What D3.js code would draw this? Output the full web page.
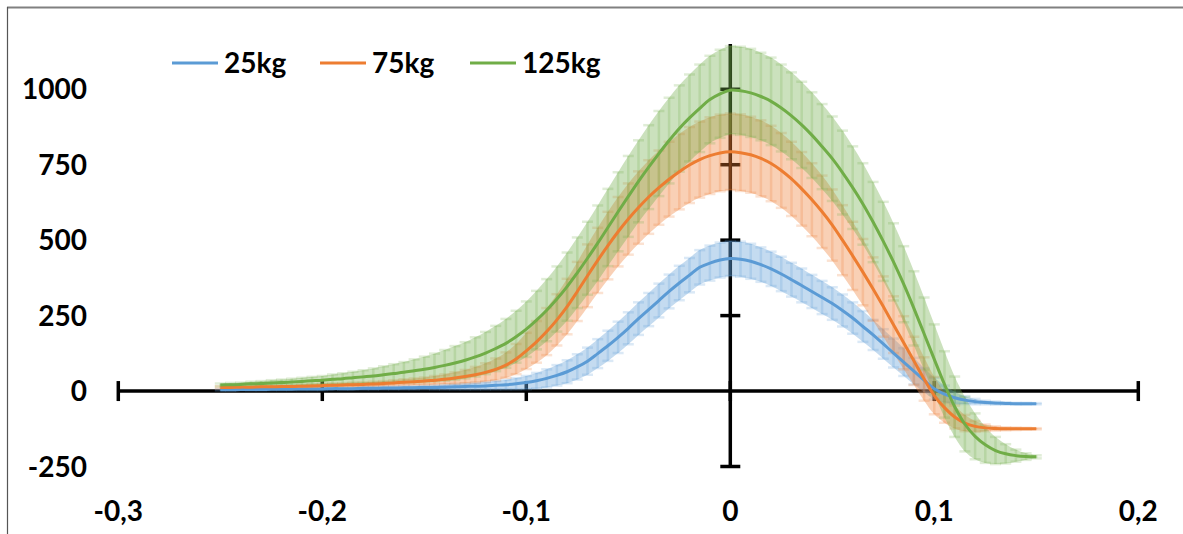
<!DOCTYPE html>
<html><head><meta charset="utf-8">
<script src="https://cdn.jsdelivr.net/npm/d3@7"></script>
<style>
html,body{margin:0;padding:0;background:#fff;}
svg{display:block;}
text{font-family:Lato,"Open Sans",sans-serif;font-weight:700;fill:#000;}
</style>
</head><body>
<svg id="chart" width="1183" height="534"></svg>
<script>
// ---------- data ----------
const xValues = [
 -0.25,-0.245,-0.24,-0.235,-0.23,-0.225,-0.22,-0.215,-0.21,-0.205,-0.2,
 -0.195,-0.19,-0.185,-0.18,-0.175,-0.17,-0.165,-0.16,-0.155,-0.15,
 -0.145,-0.14,-0.135,-0.13,-0.125,-0.12,-0.115,-0.11,-0.105,-0.1,
 -0.095,-0.09,-0.085,-0.08,-0.075,-0.07,-0.065,-0.06,-0.055,-0.05,
 -0.045,-0.04,-0.035,-0.03,-0.025,-0.02,-0.015,-0.01,-0.005,0,
 0.005,0.01,0.015,0.02,0.025,0.03,0.035,0.04,0.045,0.05,
 0.055,0.06,0.065,0.07,0.075,0.08,0.085,0.09,0.095,0.1,
 0.105,0.11,0.115,0.12,0.125,0.13,0.135,0.14,0.145,0.15
];
const seriesNames = ["25kg","75kg","125kg"];
const seriesColors = ["#5B9BD5","#ED7D31","#70AD47"];

const mean25 = [
 4,4,5,5,5,6,6,6,7,7,7,
 8,8,8,9,9,10,10,11,11,12,
 12,13,14,15,16,17,19,21,24,28,
 34,42,52,64,80,99,124,150,178,208,
 240,270,300,330,358,384,410,424,434,439,
 437,430,419,405,388,369,350,330,310,290,
 267,242,214,186,156,126,96,66,36,8,
 -10,-22,-30,-35,-38,-40,-41,-42,-42,-42
];
const err25 = [
 2,2,2,3,3,3,3,3,4,4,4,
 4,4,4,5,5,5,5,6,6,6,
 7,8,9,10,11,12,14,16,19,22,
 26,30,34,38,42,45,48,50,52,53,
 54,55,56,56,57,57,57,58,58,58,
 58,58,57,57,57,56,56,55,55,54,
 53,52,51,50,49,48,46,44,40,36,
 28,20,13,9,6,5,4,3,3,2
];
const mean75 = [
 12,12,13,13,14,14,15,15,16,17,18,
 19,20,21,22,23,25,27,29,31,33,
 36,39,43,48,54,62,72,86,106,133,
 163,197,236,280,330,382,433,482,528,570,
 608,643,674,702,727,749,767,780,789,793,
 790,783,771,754,731,703,670,634,594,550,
 500,448,394,338,280,220,160,100,40,-15,
 -55,-86,-106,-117,-122,-124,-125,-125,-125,-125
];
const err75 = [
 4,4,4,4,5,5,5,5,5,6,6,
 6,6,7,7,8,8,9,10,11,12,
 14,16,19,22,26,30,36,42,50,60,
 69,78,85,92,98,104,108,112,115,118,
 120,122,123,124,125,126,126,127,127,127,
 127,126,126,125,124,123,122,121,120,118,
 116,113,110,105,100,94,88,80,72,62,
 50,38,27,18,11,7,5,4,3,2
];
const mean125 = [
 20,21,22,24,25,27,28,30,32,34,36,
 39,41,44,47,50,54,58,62,67,72,
 78,85,93,102,113,126,141,158,180,205,
 235,268,305,346,392,440,490,542,594,645,
 695,742,787,830,870,905,937,966,985,997,
 995,988,976,960,938,912,882,848,810,770,
 724,674,620,560,496,428,354,274,190,105,
 22,-52,-110,-150,-178,-197,-208,-214,-217,-218
];
const err125 = [
 5,6,6,7,8,9,10,11,12,13,14,
 16,18,20,22,25,28,31,34,38,42,
 46,51,56,60,65,70,75,81,86,92,
 97,103,108,113,117,121,125,128,131,134,
 136,139,141,142,143,144,145,145,146,146,
 146,146,145,145,144,144,143,142,141,140,
 139,137,135,133,131,128,126,123,120,116,
 110,100,90,76,60,45,32,20,11,5
];
const seriesMeans = [mean25, mean75, mean125];
const seriesErrors = [err25, err75, err125];

const xTicks = [-0.3,-0.2,-0.1,0,0.1,0.2];
const xTickLabels = ["-0,3","-0,2","-0,1","0","0,1","0,2"];
const yTicks = [-250,0,250,500,750,1000];
const yTickLabels = ["-250","0","250","500","750","1000"];

// ---------- layout ----------
const svg = d3.select("#chart");
const x = d3.scaleLinear().domain([-0.3, 0.2]).range([118.3, 1138.3]);
const y = d3.scaleLinear().domain([-250, 1150]).range([466.5, 44]);
const x0 = x(0), y0 = y(0);

// frame
svg.append("line").attr("x1",7).attr("x2",1183).attr("y1",7.5).attr("y2",7.5)
  .attr("stroke","#808080").attr("stroke-width",2);
svg.append("line").attr("x1",7.5).attr("x2",7.5).attr("y1",7).attr("y2",534)
  .attr("stroke","#555").attr("stroke-width",1.2);

// axes
const axisG = svg.append("g").attr("stroke","#000").attr("stroke-width",3.5);
axisG.append("line").attr("x1",x.range()[0]).attr("x2",x.range()[1]).attr("y1",y0).attr("y2",y0);
axisG.append("line").attr("x1",x0).attr("x2",x0).attr("y1",y.range()[0]).attr("y2",y.range()[1]);
axisG.selectAll(".xt").data(xTicks).join("line")
  .attr("x1",d=>x(d)).attr("x2",d=>x(d)).attr("y1",y0-10).attr("y2",y0+10);
axisG.selectAll(".yt").data(yTicks.filter(d=>d!==0)).join("line")
  .attr("x1",x0-10).attr("x2",x0+10).attr("y1",d=>y(d)).attr("y2",d=>y(d));

// error bars (dense bars + caps, drawn as a band of bars)
const capW = 11;
seriesMeans.forEach((m, si) => {
  const pts = xValues.map((xv,i)=>({xv, m:m[i], e:seriesErrors[si][i]}));
  const col = seriesColors[si];
  svg.append("path").datum(pts)
    .attr("fill", col).attr("fill-opacity", 0.36)
    .attr("d", d3.area().x(d=>x(d.xv)).y0(d=>y(d.m-d.e)).y1(d=>y(d.m+d.e)).curve(d3.curveCatmullRom));
  const g = svg.append("g").attr("stroke", col).attr("stroke-opacity", 0.22);
  g.selectAll(".bar").data(pts).join("line")
    .attr("x1",d=>x(d.xv)).attr("x2",d=>x(d.xv))
    .attr("y1",d=>y(d.m + d.e)).attr("y2",d=>y(d.m - d.e))
    .attr("stroke-width",2.5);
  g.selectAll(".capt").data(pts).join("line")
    .attr("x1",d=>x(d.xv)-capW/2).attr("x2",d=>x(d.xv)+capW/2)
    .attr("y1",d=>y(d.m + d.e)).attr("y2",d=>y(d.m + d.e)).attr("stroke-width",2.5);
  g.selectAll(".capb").data(pts).join("line")
    .attr("x1",d=>x(d.xv)-capW/2).attr("x2",d=>x(d.xv)+capW/2)
    .attr("y1",d=>y(d.m - d.e)).attr("y2",d=>y(d.m - d.e)).attr("stroke-width",2.5);
});

// lines
const line = d3.line().x(d=>x(d[0])).y(d=>y(d[1])).curve(d3.curveCatmullRom);
seriesMeans.forEach((m, si) => {
  svg.append("path").datum(xValues.map((xv,i)=>[xv,m[i]]))
    .attr("fill","none").attr("stroke",seriesColors[si]).attr("stroke-width",3)
    .attr("stroke-linejoin","round").attr("d",line);
});

// tick labels
svg.selectAll(".xl").data(xTicks).join("text")
  .attr("x",d=>x(d)).attr("y",521).attr("text-anchor","middle")
  .attr("font-size",28).text((d,i)=>xTickLabels[i]);
svg.selectAll(".yl").data(yTicks).join("text")
  .attr("x",87).attr("y",d=>y(d)).attr("dy","0.36em").attr("text-anchor","end")
  .attr("font-size",28).text((d,i)=>yTickLabels[i]);

// legend
const legendX = [172, 320, 470];
seriesNames.forEach((n, si) => {
  svg.append("line").attr("x1",legendX[si]).attr("x2",legendX[si]+46)
    .attr("y1",63).attr("y2",63).attr("stroke",seriesColors[si]).attr("stroke-width",3);
  svg.append("text").attr("x",legendX[si]+52).attr("y",73).attr("font-size",28).text(n);
});
</script>
</body></html>
